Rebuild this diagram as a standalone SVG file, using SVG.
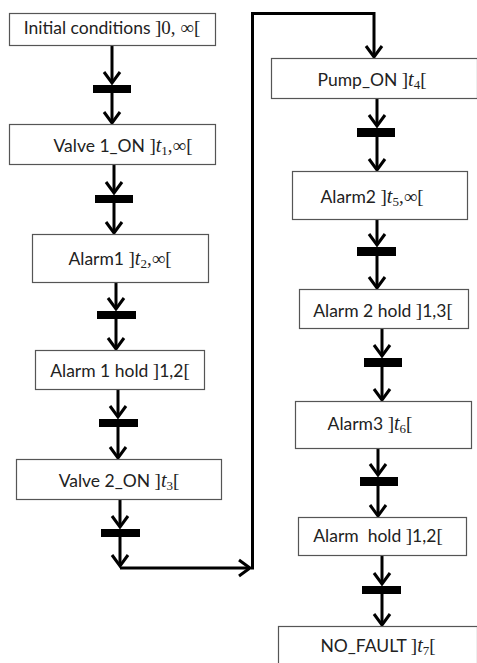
<svg xmlns="http://www.w3.org/2000/svg" width="477" height="663" viewBox="0 0 477 663">
  <defs>
    <style>
      .box { fill: #ffffff; stroke: #555555; stroke-width: 1.2; }
      .lbl { font-family: Lato, "Liberation Sans", sans-serif; font-size: 17.5px; fill: #222222; text-anchor: middle; }
      .m { font-family: "Liberation Serif", "DejaVu Serif", serif; font-size: 19px; }
      .it { font-family: "Liberation Serif", "DejaVu Serif", serif; font-style: italic; font-size: 20px; }
      .sub { font-family: "Liberation Serif", "DejaVu Serif", serif; font-size: 13px; }
      .wire { fill: none; stroke: #000000; stroke-width: 3; }
      .arrow { fill: none; stroke: #000000; stroke-width: 3; marker-end: url(#chev); }
      .bar { fill: #000000; }
    </style>
    <marker id="chev" markerUnits="userSpaceOnUse" viewBox="-14 -10 16 20" refX="0" refY="0" markerWidth="16" markerHeight="20" orient="auto" overflow="visible">
      <path d="M-11,-8 L0,0 L-11,8" fill="none" stroke="#000000" stroke-width="3"/>
    </marker>
  </defs>
  <rect width="477" height="663" fill="#ffffff"/>

  <!-- connectors: arcs and transition bars -->
  <g id="connectors">
    <!-- left column -->
    <line class="arrow" x1="112" y1="45" x2="112" y2="83"/>
    <rect class="bar" x="93" y="85" width="38" height="8"/>
    <line class="arrow" x1="112" y1="93" x2="112" y2="123"/>

    <line class="arrow" x1="114" y1="164" x2="114" y2="193"/>
    <rect class="bar" x="95" y="195" width="38" height="8"/>
    <line class="arrow" x1="114" y1="203" x2="114" y2="233"/>

    <line class="arrow" x1="116" y1="282" x2="116" y2="309"/>
    <rect class="bar" x="97" y="311" width="39" height="8"/>
    <line class="arrow" x1="116" y1="319" x2="116" y2="349"/>

    <line class="arrow" x1="118" y1="389" x2="118" y2="417"/>
    <rect class="bar" x="99" y="419" width="39" height="8"/>
    <line class="arrow" x1="118" y1="427" x2="118" y2="458"/>

    <line class="arrow" x1="120" y1="499" x2="120" y2="527"/>
    <rect class="bar" x="101" y="529" width="39" height="8"/>
    <line class="arrow" x1="120" y1="537" x2="120" y2="566"/>

    <!-- hand-over to the right column -->
    <line class="arrow" x1="120" y1="568" x2="250" y2="568"/>
    <polyline class="arrow" points="252.5,569.5 252.5,13.5 374,13.5 374,57"/>

    <!-- right column -->
    <line class="arrow" x1="377" y1="98" x2="377" y2="126"/>
    <rect class="bar" x="357" y="128" width="38" height="9"/>
    <line class="arrow" x1="377" y1="137" x2="377" y2="170"/>

    <line class="arrow" x1="377" y1="219" x2="377" y2="245"/>
    <rect class="bar" x="357" y="247" width="39" height="9"/>
    <line class="arrow" x1="377" y1="256" x2="377" y2="288"/>

    <line class="arrow" x1="382" y1="328" x2="382" y2="356"/>
    <rect class="bar" x="364" y="358" width="38" height="9"/>
    <line class="arrow" x1="382" y1="367" x2="382" y2="400"/>

    <line class="arrow" x1="378" y1="448" x2="378" y2="475"/>
    <rect class="bar" x="360" y="477" width="38" height="9"/>
    <line class="arrow" x1="378" y1="486" x2="378" y2="516"/>

    <line class="arrow" x1="382" y1="555" x2="382" y2="584"/>
    <rect class="bar" x="362" y="586" width="39" height="8"/>
    <line class="arrow" x1="382" y1="594" x2="382" y2="625"/>
  </g>

  <!-- places -->
  <g id="initial-conditions">
    <rect class="box" x="9.5" y="13.5" width="206" height="32"/>
    <text class="lbl" x="112" y="34">Initial conditions <tspan class="m">]0, ∞[</tspan></text>
  </g>
  <g id="valve1-on">
    <rect class="box" x="9.5" y="124.5" width="206" height="40"/>
    <text class="lbl" x="123" y="152">Valve 1_ON <tspan class="m">]</tspan><tspan class="it">t</tspan><tspan class="sub" dy="3">1</tspan><tspan class="m" dy="-3">,∞[</tspan></text>
  </g>
  <g id="alarm1">
    <rect class="box" x="32.5" y="234.5" width="176" height="48"/>
    <text class="lbl" x="120" y="265">Alarm1 <tspan class="m">]</tspan><tspan class="it">t</tspan><tspan class="sub" dy="3">2</tspan><tspan class="m" dy="-3">,∞[</tspan></text>
  </g>
  <g id="alarm1-hold">
    <rect class="box" x="35.5" y="350.5" width="169" height="39"/>
    <text class="lbl" x="120" y="377">Alarm 1 hold <tspan class="m">]</tspan>1,2<tspan class="m">[</tspan></text>
  </g>
  <g id="valve2-on">
    <rect class="box" x="16.5" y="459.5" width="205" height="40"/>
    <text class="lbl" x="119" y="487">Valve 2_ON <tspan class="m">]</tspan><tspan class="it">t</tspan><tspan class="sub" dy="3">3</tspan><tspan class="m" dy="-3">[</tspan></text>
  </g>
  <g id="pump-on">
    <rect class="box" x="271.5" y="58.5" width="206" height="40"/>
    <text class="lbl" x="372" y="86">Pump_ON <tspan class="m">]</tspan><tspan class="it">t</tspan><tspan class="sub" dy="3">4</tspan><tspan class="m" dy="-3">[</tspan></text>
  </g>
  <g id="alarm2">
    <rect class="box" x="292.5" y="171.5" width="175" height="48"/>
    <text class="lbl" x="372" y="203">Alarm2 <tspan class="m">]</tspan><tspan class="it">t</tspan><tspan class="sub" dy="3">5</tspan><tspan class="m" dy="-3">,∞[</tspan></text>
  </g>
  <g id="alarm2-hold">
    <rect class="box" x="299.5" y="289.5" width="169" height="39"/>
    <text class="lbl" x="383" y="317">Alarm 2 hold <tspan class="m">]</tspan>1,3<tspan class="m">[</tspan></text>
  </g>
  <g id="alarm3">
    <rect class="box" x="295.5" y="401.5" width="176" height="47"/>
    <text class="lbl" x="370" y="430">Alarm3 <tspan class="m">]</tspan><tspan class="it">t</tspan><tspan class="sub" dy="3">6</tspan><tspan class="m" dy="-3">[</tspan></text>
  </g>
  <g id="alarm-hold">
    <rect class="box" x="298.5" y="517.5" width="168" height="38"/>
    <text class="lbl" x="378" y="542" xml:space="preserve">Alarm  hold <tspan class="m">]</tspan>1,2<tspan class="m">[</tspan></text>
  </g>
  <g id="no-fault">
    <rect class="box" x="278.5" y="626.5" width="199" height="50"/>
    <text class="lbl" x="378" y="652">NO_FAULT <tspan class="m">]</tspan><tspan class="it">t</tspan><tspan class="sub" dy="3">7</tspan><tspan class="m" dy="-3">[</tspan></text>
  </g>
</svg>
